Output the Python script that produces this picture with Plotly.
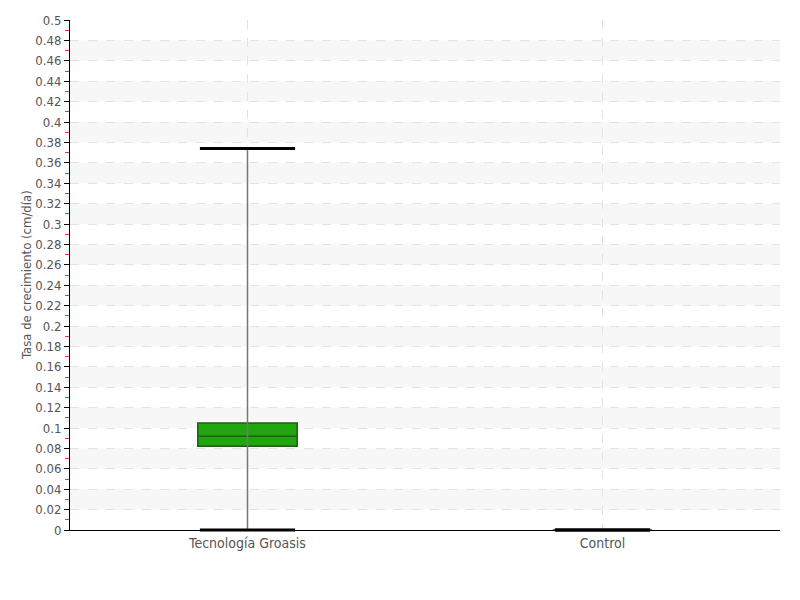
import plotly.graph_objects as go

categories = ["Tecnología Groasis", "Control"]
q1 = [0.082, 0.0]
median = [0.092, 0.0]
q3 = [0.105, 0.0]
lowerfence = [0.0, 0.0]
upperfence = [0.374, 0.0]

y_ticks = [round(i * 0.02, 2) for i in range(26)]
y_labels = [("%g" % v) for v in y_ticks]

FONT = "DejaVu Sans Condensed, Liberation Sans Narrow, DejaVu Sans, sans-serif"
xpos = list(range(len(categories)))

fig = go.Figure()

# whiskers (gray)
for i in xpos:
    fig.add_trace(go.Scatter(x=[i, i], y=[lowerfence[i], upperfence[i]], mode="lines",
                             line=dict(color="#777777", width=1.5), showlegend=False,
                             hoverinfo="skip"))

fig.add_trace(go.Box(x=xpos, q1=q1, median=median, q3=q3,
                     lowerfence=q1, upperfence=q3,
                     width=0.28, fillcolor="#22a511",
                     line=dict(color="#1d5e13", width=1.5),
                     showlegend=False))

# whisker caps
for i in xpos:
    fig.add_trace(go.Scatter(x=[i, i], y=[lowerfence[i], upperfence[i]], mode="markers",
                             marker=dict(symbol="line-ew", size=68, color="#000000",
                                         line=dict(width=3, color="#000000")),
                             cliponaxis=False, showlegend=False, hoverinfo="skip"))

# alternating bands
shapes = []
for k in range(12):
    y0 = 0.02 + 0.04 * k
    shapes.append(dict(type="rect", xref="paper", yref="y", x0=0, x1=1, y0=y0, y1=y0 + 0.02,
                       fillcolor="#f7f7f7", line=dict(width=0), layer="below"))

tf = dict(family=FONT, size=14, color="#555555")
tick_f = dict(family=FONT, size=13, color="#555555")

fig.update_layout(
    width=800, height=600,
    margin=dict(l=62, r=28, t=12, b=78),
    plot_bgcolor="white", paper_bgcolor="white",
    font=tf,
    shapes=shapes,
    annotations=[dict(text="Tasa de crecimiento (cm/día)", xref="paper", yref="paper",
                      x=0, y=0.5, xanchor="center", yanchor="middle", xshift=-44,
                      textangle=-90, showarrow=False, font=dict(family=FONT, size=13, color="#555555"))],
    xaxis=dict(range=[-0.5, 1.5], tickvals=xpos, ticktext=categories,
               showline=True, linecolor="#000000", linewidth=1,
               showgrid=True, gridcolor="#e3e3e3", griddash="dash", gridwidth=1,
               ticks="", zeroline=False, tickfont=tf, automargin=False),
    yaxis=dict(range=[0, 0.5], tickvals=y_ticks, ticktext=y_labels,
               showline=True, linecolor="#000000", linewidth=1,
               ticks="outside", ticklen=5, tickcolor="#000000",
               showgrid=True, gridcolor="#e3e3e3", griddash="dash", gridwidth=1,
               zeroline=False, automargin=False,
               minor=dict(dtick=0.01, tick0=0.01, ticks="outside", ticklen=4,
                          tickcolor="#ee3333", showgrid=False),
               tickfont=tick_f),
)

fig.write_html("out.html")
